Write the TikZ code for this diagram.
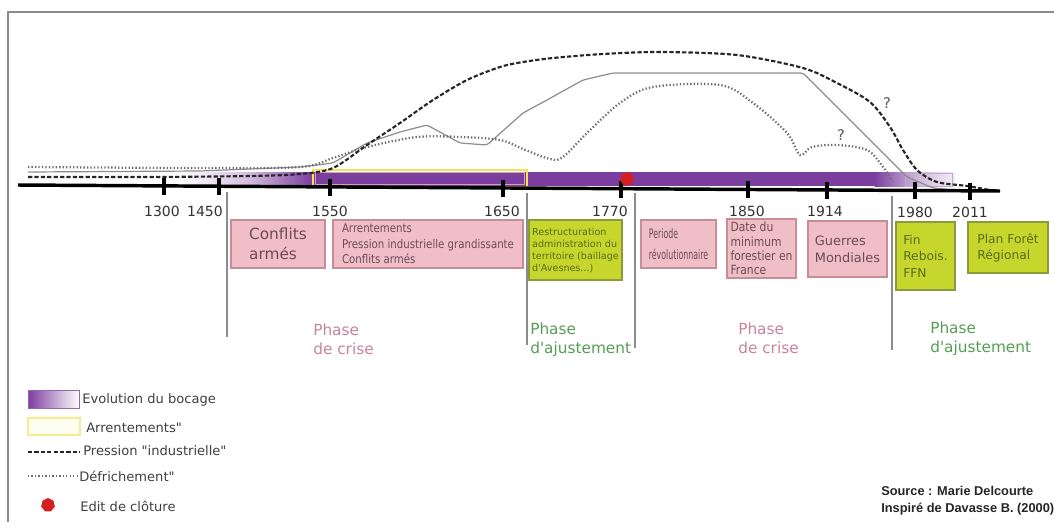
\documentclass[tikz,border=0pt]{standalone}
\usepackage{fontspec}
\newfontfamily\dv{DejaVu Sans}
\newfontfamily\condf[FakeStretch=0.6]{DejaVu Sans}
\newfontfamily\semif[FakeStretch=0.85]{DejaVu Sans}
\newfontfamily\srcf{Liberation Sans}
\AtBeginDocument{\dv}
\usetikzlibrary{shapes.geometric}
\definecolor{purp}{RGB}{124,62,158}
\definecolor{pinkf}{RGB}{240,190,199}
\definecolor{pinkb}{RGB}{200,140,152}
\definecolor{pinktxt}{RGB}{110,74,85}
\definecolor{greenf}{RGB}{198,214,44}
\definecolor{greenb}{RGB}{140,154,58}
\definecolor{greentxt}{RGB}{90,107,30}
\definecolor{crisec}{RGB}{200,132,156}
\definecolor{ajustc}{RGB}{86,158,86}
\definecolor{yel}{RGB}{243,227,90}
\definecolor{dotg}{RGB}{110,110,110}
\definecolor{solg}{RGB}{140,140,140}
\definecolor{redpt}{RGB}{212,32,32}
\begin{document}
\begin{tikzpicture}[x=0.75pt,y=-0.75pt,
  pinkbox/.style={draw=pinkb, fill=pinkf, line width=0.9pt, inner sep=0pt, align=left, text=pinktxt},
  greenbox/.style={draw=greenb, fill=greenf, line width=0.9pt, inner sep=0pt, align=left, text=greentxt},
  yearlab/.style={font=\fontsize{10.5}{12}\selectfont, text=black!80, inner sep=0pt},
  crise/.style={font=\fontsize{11.5}{14.25}\selectfont, text=crisec, align=left, anchor=west, inner sep=0pt},
  ajust/.style={font=\fontsize{11.5}{14.25}\selectfont, text=ajustc, align=left, anchor=west, inner sep=0pt},
  legtxt/.style={font=\fontsize{9.8}{12}\selectfont, text=black!75, anchor=west, inner sep=0pt},
  sepline/.style={draw=black!45, line width=0.8pt},
  tickm/.style={line width=3pt, black},
  dashline/.style={line width=1.6pt, black!85, dash pattern=on 3.2pt off 1.6pt},
  dotline/.style={line width=1.7pt, dotg, dash pattern=on 1pt off 1.6pt},
  solline/.style={line width=0.9pt, solg},
  redmark/.style={regular polygon, regular polygon sides=7, fill=redpt, minimum size=10.5pt, inner sep=0pt},
  qmark/.style={font=\fontsize{11}{13}\selectfont, text=black!65, inner sep=0pt}
]
\useasboundingbox (0,0) rectangle (1054,522);
\fill[white] (0,0) rectangle (1054,522);
% frame
\draw[black!45, line width=0.8pt] (8,522) -- (8,12) -- (1054,12);

% purple bar
\shade[left color=white, right color=purp!35] (180,172) rectangle (250,186);
\shade[left color=purp!35, right color=purp] (249.5,172) rectangle (312,186);
\fill[purp] (311.5,172) rectangle (875,186);
\shade[left color=purp, right color=purp!40] (874.5,172) rectangle (915,186);
\shade[left color=purp!40, right color=purp!8] (914.5,172) rectangle (955,186);
\draw[purp!45, line width=0.6pt] (905,173) rectangle (952,186);

% Arrentements rectangle
\draw[yel, line width=1.8pt] (313,170) rectangle (527,187);
\draw[pinkb!80, line width=0.5pt] (315.5,172.5) rectangle (524.5,184.5);

% curves
\draw[solline, rounded corners=2pt] (28,172) -- (200,171) -- (300,167) -- (333,163) -- (367,143) -- (400,132) -- (427,125) -- (460,143) -- (487,145) -- (523,113) -- (547,100) -- (583,80) -- (613,73) -- (803,73) -- (853,123) -- (887,157) -- (907,177) -- (933,188) -- (955,190);
\draw[dotline] plot[smooth, tension=0.55] coordinates {(28,167) (200,168) (300,167) (333,158) (367,147) (417,137) (460,137) (500,140) (523,149) (550,159) (563,157) (587,133) (620,103) (653,87) (720,85) (753,103) (787,133) (800,155) (812,147) (837,145) (867,150) (883,167) (892,181)};
\draw[dashline] plot[smooth, tension=0.5] coordinates {(28,177) (150,177) (250,176) (300,174) (333,168) (367,145) (400,123) (433,100) (467,80) (500,67) (523,62) (553,58) (603,54) (660,52) (737,55) (803,68) (837,83) (870,102) (890,127) (903,150) (917,170) (937,182) (967,186) (995,191)};

% axis
\draw[black, line width=2.6pt] (18,185) -- (1000,191);
\draw[tickm] (164,178) -- (164,195);
\draw[tickm] (219,178) -- (219,195);
\draw[tickm] (330,179) -- (330,196);
\draw[tickm] (503,180) -- (503,197);
\draw[tickm] (621,181) -- (621,198);
\draw[tickm] (748,181) -- (748,198);
\draw[tickm] (827,182) -- (827,199);
\draw[tickm] (915,182) -- (915,199);
\draw[tickm] (970,183) -- (970,200);

% edit de cloture
\node[redmark] (edit) at (627,179) {};

% question marks
\node[qmark] (q1) at (887,103) {?};
\node[qmark] (q2) at (841,135) {?};

% years
\node[yearlab] (y1300) at (162,211) {1300};
\node[yearlab] (y1450) at (205,211) {1450};
\node[yearlab] (y1550) at (330,211) {1550};
\node[yearlab] (y1650) at (502,211) {1650};
\node[yearlab] (y1770) at (610,211) {1770};
\node[yearlab] (y1850) at (747,211) {1850};
\node[yearlab] (y1914) at (825,211) {1914};
\node[yearlab] (y1980) at (915,212) {1980};
\node[yearlab] (y2011) at (970,212) {2011};

% phase separators
\draw[sepline] (227,192) -- (227,337);
\draw[sepline] (527,193) -- (527,345);
\draw[sepline] (635,193) -- (635,348);
\draw[sepline] (892,196) -- (892,350);

% event boxes
\node[pinkbox, minimum width=70.5pt, minimum height=36pt, font=\fontsize{11.5}{15}\selectfont] (b1) at (278,244) {Conflits\\armés};
\node[pinkbox, minimum width=142.5pt, minimum height=36pt, font=\semif\fontsize{9}{11.6}\selectfont] (b2) at (428,244) {Arrentements\\Pression industrielle grandissante\\Conflits armés};
\node[greenbox, minimum width=69.75pt, minimum height=45pt, font=\fontsize{7.2}{9}\selectfont] (b3) at (575.5,250) {Restructuration\\administration du\\territoire (baillage\\d'Avesnes...)};
\node[pinkbox, minimum width=56.25pt, minimum height=36pt, font=\condf\fontsize{9.8}{15.75}\selectfont] (b4) at (678.5,244) {Periode\\révolutionnaire};
\node[pinkbox, minimum width=51.75pt, minimum height=44.25pt, font=\semif\fontsize{9.5}{10.8}\selectfont] (b5) at (761.5,248.5) {Date du\\minimum\\forestier en\\France};
\node[pinkbox, minimum width=59.25pt, minimum height=42pt, font=\fontsize{9.7}{12.75}\selectfont] (b6) at (847.5,249) {Guerres\\Mondiales};
\node[greenbox, minimum width=44.25pt, minimum height=51pt, font=\fontsize{9.2}{12.4}\selectfont] (b7) at (925.5,256) {Fin\\Rebois.\\FFN};
\node[greenbox, minimum width=60pt, minimum height=38.25pt, font=\fontsize{9.2}{12}\selectfont] (b8) at (1008,247.5) {Plan Forêt\\Régional};

% phases
\node[crise] (p1) at (313,339.5) {Phase\\de crise};
\node[ajust] (p2) at (530,340) {Phase\\d'ajustement};
\node[crise] (p3) at (738,338) {Phase\\de crise};
\node[ajust] (p4) at (930,338.5) {Phase\\d'ajustement};

% legend
\shade[left color=purp, right color=white] (28,390) rectangle (79,408);
\draw[purp!80, line width=0.6pt] (28,390) rectangle (79,408);
\node[legtxt] (l1) at (82,400) {Evolution du bocage};
\draw[yel!70, fill=yel!8, line width=1pt] (28,418) rectangle (80,435);
\node[legtxt] (l2) at (86,428) {Arrentements"};
\draw[dashline] (28,452) -- (80,452);
\node[legtxt] (l3) at (83,451) {Pression "industrielle"};
\draw[dotline, line width=1.1pt] (28,476) -- (77,476);
\node[legtxt] (l4) at (79,476) {Défrichement"};
\node[redmark] (lred) at (48,505) {};
\node[legtxt] (l5) at (80,506) {Edit de clôture};

% source
\node[anchor=west, align=left, inner sep=0pt, text=black!85, font=\srcf\bfseries\fontsize{9.6}{12.75}\selectfont] (src) at (881,501) {Source : Marie Delcourte\\Inspiré de Davasse B. (2000)};
\end{tikzpicture}
\end{document}
